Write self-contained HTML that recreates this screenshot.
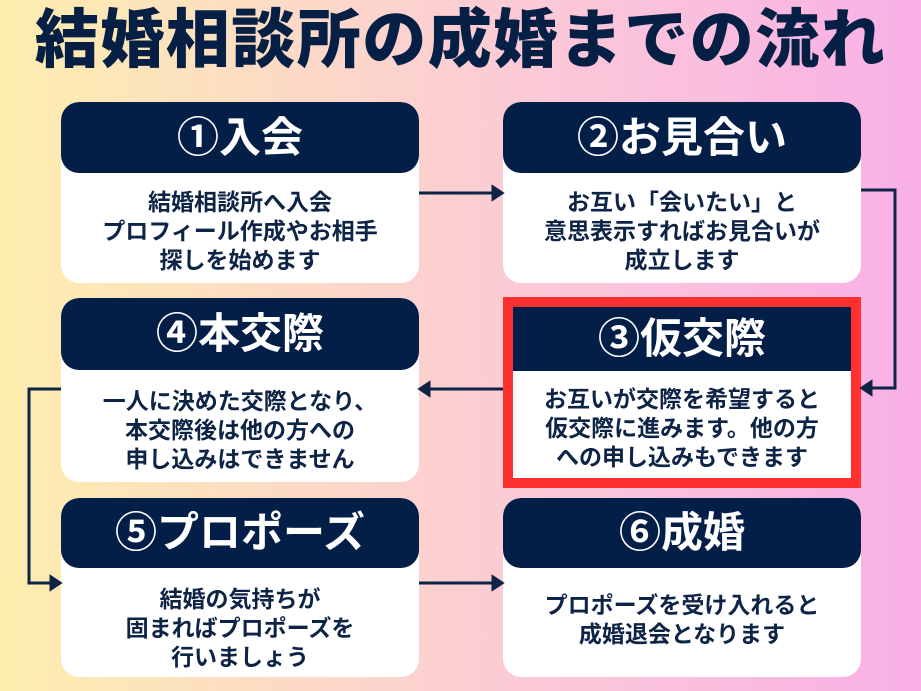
<!DOCTYPE html>
<html><head><meta charset="utf-8"><style>
*{margin:0;padding:0;box-sizing:border-box}
body{width:921px;height:691px;overflow:hidden;position:relative;background:linear-gradient(90deg,#fdeeae 0%,#fcd8c8 35%,#fbc8d8 60%,#f9b0e6 100%);font-family:"Liberation Sans","Noto Sans CJK JP",sans-serif;}
.title{position:absolute;left:0;top:2px;width:921px;text-align:center;font-size:64px;font-weight:900;color:#061f45;letter-spacing:1.5px;line-height:76px;}
.card{position:absolute;width:358px;background:#fff;border-radius:18px;overflow:hidden;}
.hd{background:#041f47;color:#fff;font-weight:bold;font-size:42px;text-align:center;border-radius:18px;}
.bd{color:#0e2447;font-weight:bold;font-size:23px;line-height:29px;text-align:center;white-space:nowrap;}
svg{position:absolute;left:0;top:0}
</style></head><body>
<div class="title">結婚相談所の成婚までの流れ</div>

<div class="card" style="left:61px;top:102px;height:181px"><div class="hd" style="height:71px;line-height:71px">①入会</div><div class="bd" style="padding-top:15px">結婚相談所へ入会<br>プロフィール作成やお相手<br>探しを始めます</div></div>
<div class="card" style="left:503px;top:102px;height:181px"><div class="hd" style="height:71px;line-height:71px">②お見合い</div><div class="bd" style="padding-top:15px">お互い「会いたい」と<br>意思表示すればお見合いが<br>成立します</div></div>

<div class="card" style="left:61px;top:298px;height:184px"><div class="hd" style="height:72px;line-height:72px">④本交際</div><div class="bd" style="padding-top:17px">一人に決めた交際となり、<br>本交際後は他の方への<br>申し込みはできません</div></div>
<div style="position:absolute;left:503px;top:297px;width:358px;height:191px;background:#ff3030;"></div>
<div style="position:absolute;left:513px;top:307px;width:338px;height:171px;background:#fff;">
<div style="background:#041f47;color:#fff;font-weight:bold;font-size:42px;text-align:center;height:64px;line-height:64px">③仮交際</div>
<div class="bd" style="padding-top:14px">お互いが交際を希望すると<br>仮交際に進みます。他の方<br>への申し込みもできます</div></div>

<div class="card" style="left:61px;top:498px;height:179px"><div class="hd" style="height:70px;line-height:70px">⑤プロポーズ</div><div class="bd" style="padding-top:17px">結婚の気持ちが<br>固まればプロポーズを<br>行いましょう</div></div>
<div class="card" style="left:503px;top:498px;height:179px"><div class="hd" style="height:70px;line-height:70px">⑥成婚</div><div class="bd" style="padding-top:23px">プロポーズを受け入れると<br>成婚退会となります</div></div>

<svg width="921" height="691" fill="none" stroke="#0e2447" stroke-width="3">
<path d="M419 193H498"/><path d="M493 187L502 193L493 199Z" fill="#0e2447"/>
<path d="M861 190H895V388H866"/><path d="M871 382L862 388L871 394Z" fill="#0e2447"/>
<path d="M503 389H424"/><path d="M429 383L420 389L429 395Z" fill="#0e2447"/>
<path d="M61 389H29V583H56"/><path d="M51 577L60 583L51 589Z" fill="#0e2447"/>
<path d="M419 583H498"/><path d="M493 577L502 583L493 589Z" fill="#0e2447"/>
</svg>
</body></html>
